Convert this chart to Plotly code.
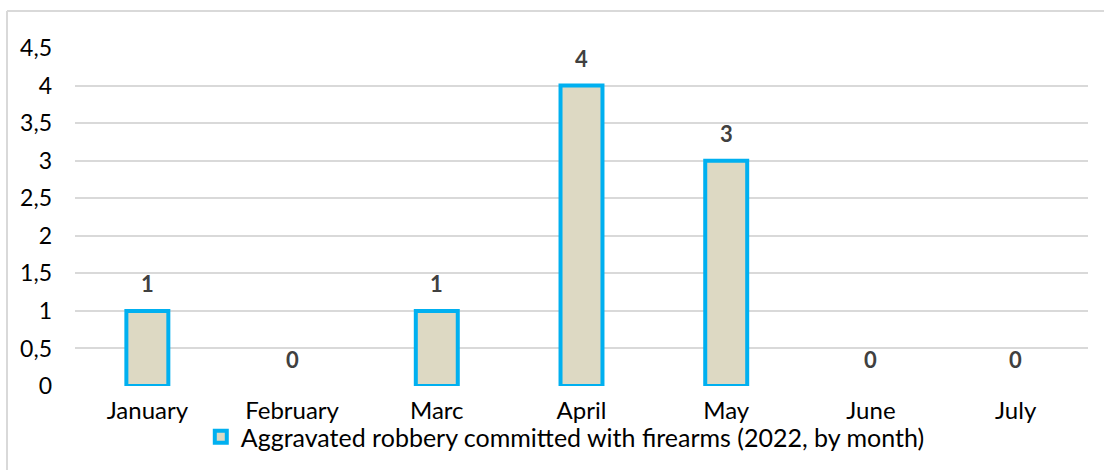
import plotly.graph_objects as go

months = ["January", "February", "Marc", "April", "May", "June", "July"]
values = [1, 0, 1, 4, 3, 0, 0]
series_name = "Aggravated robbery committed with firearms (2022, by month)"
y_ticks = [0, 0.5, 1, 1.5, 2, 2.5, 3, 3.5, 4, 4.5]
y_tick_text = ["0", "0,5", "1", "1,5", "2", "2,5", "3", "3,5", "4", "4,5"]

FONT = "Lato, Calibri, sans-serif"
W, H = 1104, 470
L, R, T, B = 75, 16, 48, 84
pw, ph = W - L - R, H - T - B

def px(p):
    return (p - L) / pw

def py(q):
    return (H - B - q) / ph

outline_widths = [4 if v > 0 else 0 for v in values]

fig = go.Figure()
fig.add_trace(go.Bar(
    x=months, y=values, name=series_name, width=0.29,
    marker=dict(color="#DDD9C3", line=dict(color="#00B0F0", width=outline_widths)),
    showlegend=True,
))

for m, v in zip(months, values):
    fig.add_annotation(x=m, y=v, text=f"<b>{v}</b>", showarrow=False,
                       yshift=27, font=dict(family=FONT, size=22, color="#404040"))

fig.update_layout(
    width=W, height=H,
    margin=dict(l=L, r=R, t=T, b=B, autoexpand=False),
    paper_bgcolor="white", plot_bgcolor="white",
    font=dict(family=FONT, size=22, color="#000000"),
    bargap=0.7,
    xaxis=dict(showgrid=False, showline=False, ticks="", ticklabelstandoff=8,
               tickfont=dict(size=24)),
    yaxis=dict(range=[0, 4.5], tickvals=y_ticks, ticktext=y_tick_text,
               showgrid=True, gridcolor="#D9D9D9", gridwidth=1.5,
               zeroline=False, showline=False, ticks="", ticklabelstandoff=22,
               tickfont=dict(size=23)),
    legend=dict(orientation="h", x=0.484, xanchor="center", y=py(437), yanchor="middle",
                font=dict(size=25), bgcolor="rgba(0,0,0,0)", itemwidth=30,
                tracegroupgap=0),
    shapes=[
        dict(type="line", xref="paper", yref="paper", x0=px(7), x1=px(1104),
             y0=py(11), y1=py(11), line=dict(color="#D9D9D9", width=2)),
        dict(type="line", xref="paper", yref="paper", x0=px(7), x1=px(7),
             y0=py(11), y1=py(470), line=dict(color="#D9D9D9", width=2)),
    ],
)

fig.write_html("out.html")
